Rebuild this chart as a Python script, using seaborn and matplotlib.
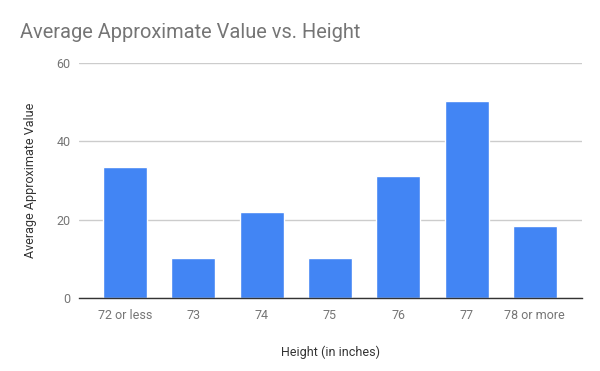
import pandas as pd
import matplotlib.pyplot as plt
import seaborn as sns

heights = ["72 or less", "73", "74", "75", "76", "77", "78 or more"]
avg_value = [33.4, 10.2, 21.9, 10.2, 31.1, 50.2, 18.3]

df = pd.DataFrame({"Height (in inches)": heights, "Average Approximate Value": avg_value})

sns.set_style("white")
plt.rcParams["font.family"] = ["Roboto", "DejaVu Sans"]

fig = plt.figure(figsize=(6, 3.71), dpi=100)
ax = fig.add_axes([0.132, 0.197, 0.838, 0.633])

sns.barplot(data=df, x="Height (in inches)", y="Average Approximate Value",
            color="#4285F4", saturation=1, width=0.643, ax=ax, zorder=3)

ax.set_ylim(0, 60)
ax.set_xlim(-0.67, 6.69)
ax.set_yticks([0, 20, 40, 60])
ax.yaxis.grid(True, color="#cccccc", linewidth=1, zorder=0)
ax.set_axisbelow(True)
for s in ["left", "right", "top"]:
    ax.spines[s].set_visible(False)
ax.spines["bottom"].set_color("#333333")
ax.spines["bottom"].set_linewidth(1)
ax.spines["bottom"].set_zorder(4)
ax.tick_params(axis="both", length=0, labelsize=9, colors="#757575")
ax.tick_params(axis="x", pad=8)
ax.tick_params(axis="y", pad=6)

ax.set_xlabel("Height (in inches)", fontsize=9, color="#333333", labelpad=17)
ax.set_ylabel("Average Approximate Value", fontsize=9, color="#333333", labelpad=14)

fig.text(0.033, 0.912, "Average Approximate Value vs. Height", fontsize=14.4,
         color="#757575", ha="left", va="center")

plt.savefig("out.png", dpi=100)
